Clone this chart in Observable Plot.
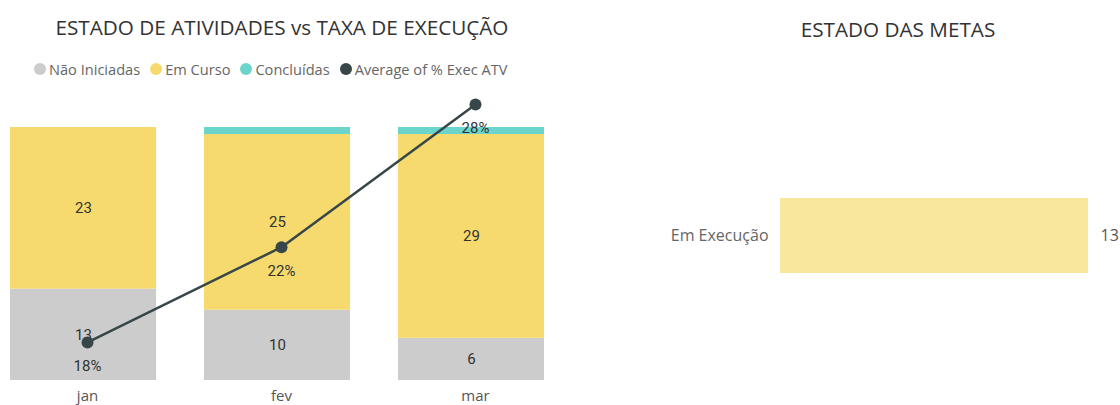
<!DOCTYPE html>
<html>
<head>
<meta charset="utf-8">
<script src="https://cdn.jsdelivr.net/npm/d3@7"></script>
<script src="https://cdn.jsdelivr.net/npm/@observablehq/plot@0.6"></script>
<style>
  html, body { margin: 0; padding: 0; background: #fff; }
  #root { position: relative; width: 1120px; height: 405px; overflow: hidden; font-family: "Open Sans", "Noto Sans", sans-serif; }
  .title { position: absolute; font-size: 20.7px; color: #333; white-space: nowrap; transform: translateX(-50%); }
  #legend { position: absolute; left: 34px; top: 59px; display: flex; align-items: center; font-size: 14.6px; color: #666; white-space: nowrap; }
  #legend .item { display: flex; align-items: center; margin-right: 10px; }
  #legend .dot { width: 12px; height: 12px; border-radius: 50%; margin-right: 3px; }
  .plot { position: absolute; }
</style>
</head>
<body>
<div id="root">
  <div class="title" style="left:282px; top:13px;">ESTADO DE ATIVIDADES vs TAXA DE EXECUÇÃO</div>
  <div id="legend"></div>
  <div class="title" style="left:898px; top:15px;">ESTADO DAS METAS</div>
  <div class="plot" id="left" style="left:0; top:90px;"></div>
  <div class="plot" id="line" style="left:4px; top:90px;"></div>
  <div class="plot" id="right" style="left:560px; top:90px;"></div>
</div>
<script>
// ---- data ----
const months = ["jan", "fev", "mar"];
const series = ["Não Iniciadas", "Em Curso", "Concluídas"];
const naoIniciadas = [13, 10, 6];
const emCurso = [23, 25, 29];
const concluidas = [0, 1, 1];
const execAvg = [0.18, 0.22, 0.28];
const lineName = "Average of % Exec ATV";
const metaCategories = ["Em Execução"];
const metaValues = [13];

const colors = ["#CCCCCC", "#F6DA6D", "#6BD5CB"];
const lineColor = "#374649";

// legend
const legend = document.getElementById("legend");
[...series, lineName].forEach((s, i) => {
  const it = document.createElement("div");
  it.className = "item";
  const d = document.createElement("span");
  d.className = "dot";
  d.style.background = i < 3 ? colors[i] : lineColor;
  const t = document.createElement("span");
  t.textContent = s;
  it.appendChild(d); it.appendChild(t);
  legend.appendChild(it);
});

// table
const rows = [];
months.forEach((m, i) => {
  const vals = [naoIniciadas[i], emCurso[i], concluidas[i]];
  const total = vals.reduce((a, b) => a + b, 0);
  let acc = 0;
  vals.forEach((v, j) => {
    rows.push({month: m, series: series[j], value: v, frac: v / total, y1: acc / total, y2: (acc + v) / total});
    acc += v;
  });
});
const lineRows = months.map((m, i) => ({month: m, v: execAvg[i]}));

const W = 560, H = 315;
const common = {
  width: W, height: H,
  marginLeft: 10, marginRight: 16, marginTop: 37, marginBottom: 25,
  style: {fontFamily: "Roboto, sans-serif", fontSize: "13px", background: "transparent", overflow: "visible"}
};

const left = Plot.plot({
  ...common,
  x: {type: "band", domain: months, paddingInner: 0.247, paddingOuter: 0, round: false, label: null, tickSize: 0, tickPadding: 10},
  y: {domain: [0, 1], axis: null},
  color: {domain: series, range: colors},
  marks: [
    Plot.rectY(rows, {x: "month", y1: "y1", y2: "y2", fill: "series"}),
    Plot.text(rows.filter(d => d.frac > 0.05), {x: "month", y: d => (d.y1 + d.y2) / 2, text: d => String(d.value), fill: "#333", fontSize: 15})
  ]
});
left.querySelectorAll('[aria-label="x-axis tick label"] text').forEach(t => {
  t.style.fontFamily = "Open Sans, sans-serif"; t.style.fill = "#555"; t.style.fontSize = "15px";
  t.setAttribute("dx", "4");
});
document.getElementById("left").appendChild(left);

const line = Plot.plot({
  ...common,
  x: {type: "band", domain: months, paddingInner: 0.247, paddingOuter: 0, round: false, axis: null},
  y: {domain: [0.164, 0.2703], axis: null},
  clip: false,
  marks: [
    Plot.line(lineRows, {x: "month", y: "v", stroke: lineColor, strokeWidth: 2.5}),
    Plot.dot(lineRows, {x: "month", y: "v", fill: lineColor, r: 6}),
    Plot.text(lineRows, {x: "month", y: "v", text: d => Math.round(d.v * 100) + "%", dy: 24, fill: "#333", fontSize: 15})
  ]
});
document.getElementById("line").appendChild(line);

const metaRows = metaCategories.map((c, i) => ({cat: c, v: metaValues[i]}));
const right = Plot.plot({
  width: 560, height: 315,
  marginLeft: 220, marginRight: 32, marginTop: 108, marginBottom: 132,
  style: {fontFamily: "Open Sans, sans-serif", fontSize: "16px", background: "transparent", overflow: "visible"},
  x: {domain: [0, 13], axis: null},
  y: {domain: metaCategories, padding: 0, label: null, tickSize: 0, tickPadding: 12},
  marks: [
    Plot.barX(metaRows, {x: "v", y: "cat", fill: "#F9E79B"}),
    Plot.text(metaRows, {x: "v", y: "cat", text: d => String(d.v), textAnchor: "start", dx: 12, fill: "#555", fontSize: 16})
  ]
});
right.querySelectorAll('[aria-label="y-axis tick label"] text').forEach(t => { t.style.fill = "#666"; });
document.getElementById("right").appendChild(right);
</script>
</body>
</html>
